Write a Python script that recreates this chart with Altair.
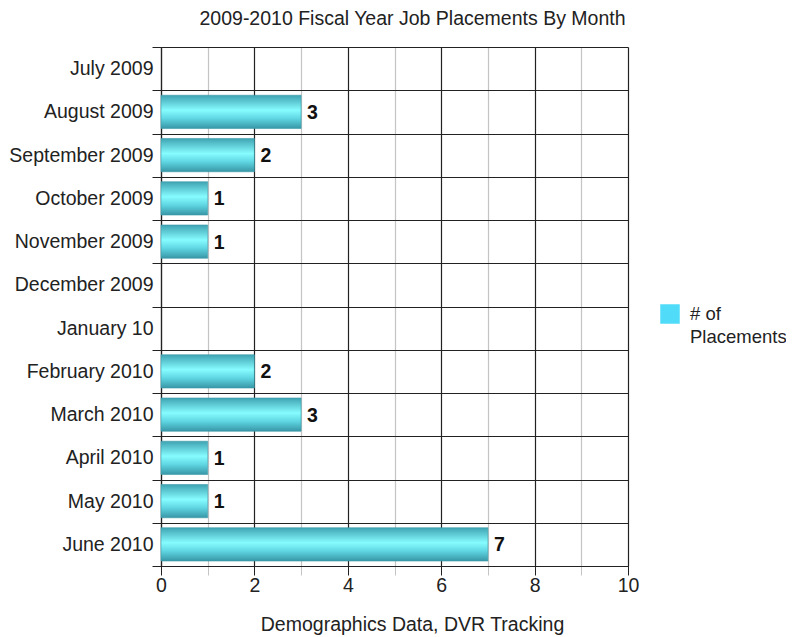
import altair as alt
import pandas as pd

months = ["July 2009", "August 2009", "September 2009", "October 2009", "November 2009",
          "December 2009", "January 10", "February 2010", "March 2010", "April 2010",
          "May 2010", "June 2010"]
placements = [0, 3, 2, 1, 1, 0, 0, 2, 3, 1, 1, 7]
series_name = "# of Placements"

df = pd.DataFrame({"month": months, "value": placements, "series": series_name})

FONT = "Liberation Sans"
FS = 19.5

grad = alt.Gradient(
    gradient="linear",
    stops=[
        alt.GradientStop(color="#3fa3b2", offset=0),
        alt.GradientStop(color="#86fcff", offset=0.45),
        alt.GradientStop(color="#5fd6e2", offset=0.7),
        alt.GradientStop(color="#3896a6", offset=1),
    ],
    x1=0, x2=0, y1=0, y2=1,
)

y_enc = alt.Y(
    "month:N", sort=months, title=None,
    scale=alt.Scale(paddingInner=0, paddingOuter=0),
    axis=alt.Axis(
        tickBand="extent", grid=True, gridColor="#222", gridWidth=1.2,
        tickColor="#222", tickSize=9, domainColor="#222", domainWidth=1.2,
        labelFont=FONT, labelFontSize=FS, labelColor="#222", labelPadding=-1,
        labelLimit=300,
    ),
)
x_enc = alt.X(
    "value:Q", title="Demographics Data, DVR Tracking",
    scale=alt.Scale(domain=[0, 10], nice=False),
    axis=alt.Axis(
        values=list(range(11)),
        labelExpr="datum.value % 2 === 0 ? datum.label : ''",
        labelFlush=False,
        grid=True,
        gridColor={"condition": {"test": "datum.value % 2 !== 0", "value": "#c4c4c4"}, "value": "#222222"},
        gridWidth=1.2,
        tickColor={"condition": {"test": "datum.value % 2 !== 0", "value": "#c4c4c4"}, "value": "#222222"},
        tickSize=9, domainColor="#222", domainWidth=1.2,
        labelFont=FONT, labelFontSize=FS, labelColor="#222", labelPadding=1,
        titleFont=FONT, titleFontSize=FS, titleFontWeight="normal", titleColor="#222",
        titlePadding=20.5, titleX=251,
    ),
)

bars = alt.Chart(df).transform_filter("datum.value > 0").mark_bar(
    height=alt.RelativeBandSize(0.77), color=grad, stroke="#3a9aa8", strokeWidth=0.6
).encode(y=y_enc, x=x_enc)

labels = alt.Chart(df).transform_filter("datum.value > 0").mark_text(
    align="left", baseline="middle", dx=6, dy=1, font=FONT, fontSize=FS,
    fontWeight="bold", color="#111"
).encode(y=alt.Y("month:N", sort=months), x="value:Q", text="value:Q")

legend_layer = alt.Chart(df).mark_square(opacity=0).encode(
    y=alt.Y("month:N", sort=months), x="value:Q",
    color=alt.Color(
        "series:N", scale=alt.Scale(range=["#50dcf8"]), title=None,
        legend=alt.Legend(
            orient="none", legendX=499, legendY=257, symbolType="square",
            symbolSize=380, symbolOpacity=1, symbolStrokeWidth=0,
            labelExpr="['# of', 'Placements']", labelFont=FONT, labelFontSize=18.5,
            labelColor="#222", labelLimit=300, labelOffset=10,
        ),
    ),
)

chart = alt.layer(bars, labels, legend_layer).properties(
    width=467, height=519,
    title=alt.TitleParams(
        "2009-2010 Fiscal Year Job Placements By Month",
        font=FONT, fontSize=FS, fontWeight="normal", color="#222",
        anchor="middle", dx=18, offset=8,
    ),
    autosize=alt.AutoSizeParams(type="none"),
    padding={"left": 153, "top": 39, "right": 158, "bottom": 70},
).configure_view(stroke=None).configure(
    background="white", style={"guide-label": {"lineHeight": 23}}
)

chart.save("out.html", embed_options={"renderer": "svg", "actions": False})
